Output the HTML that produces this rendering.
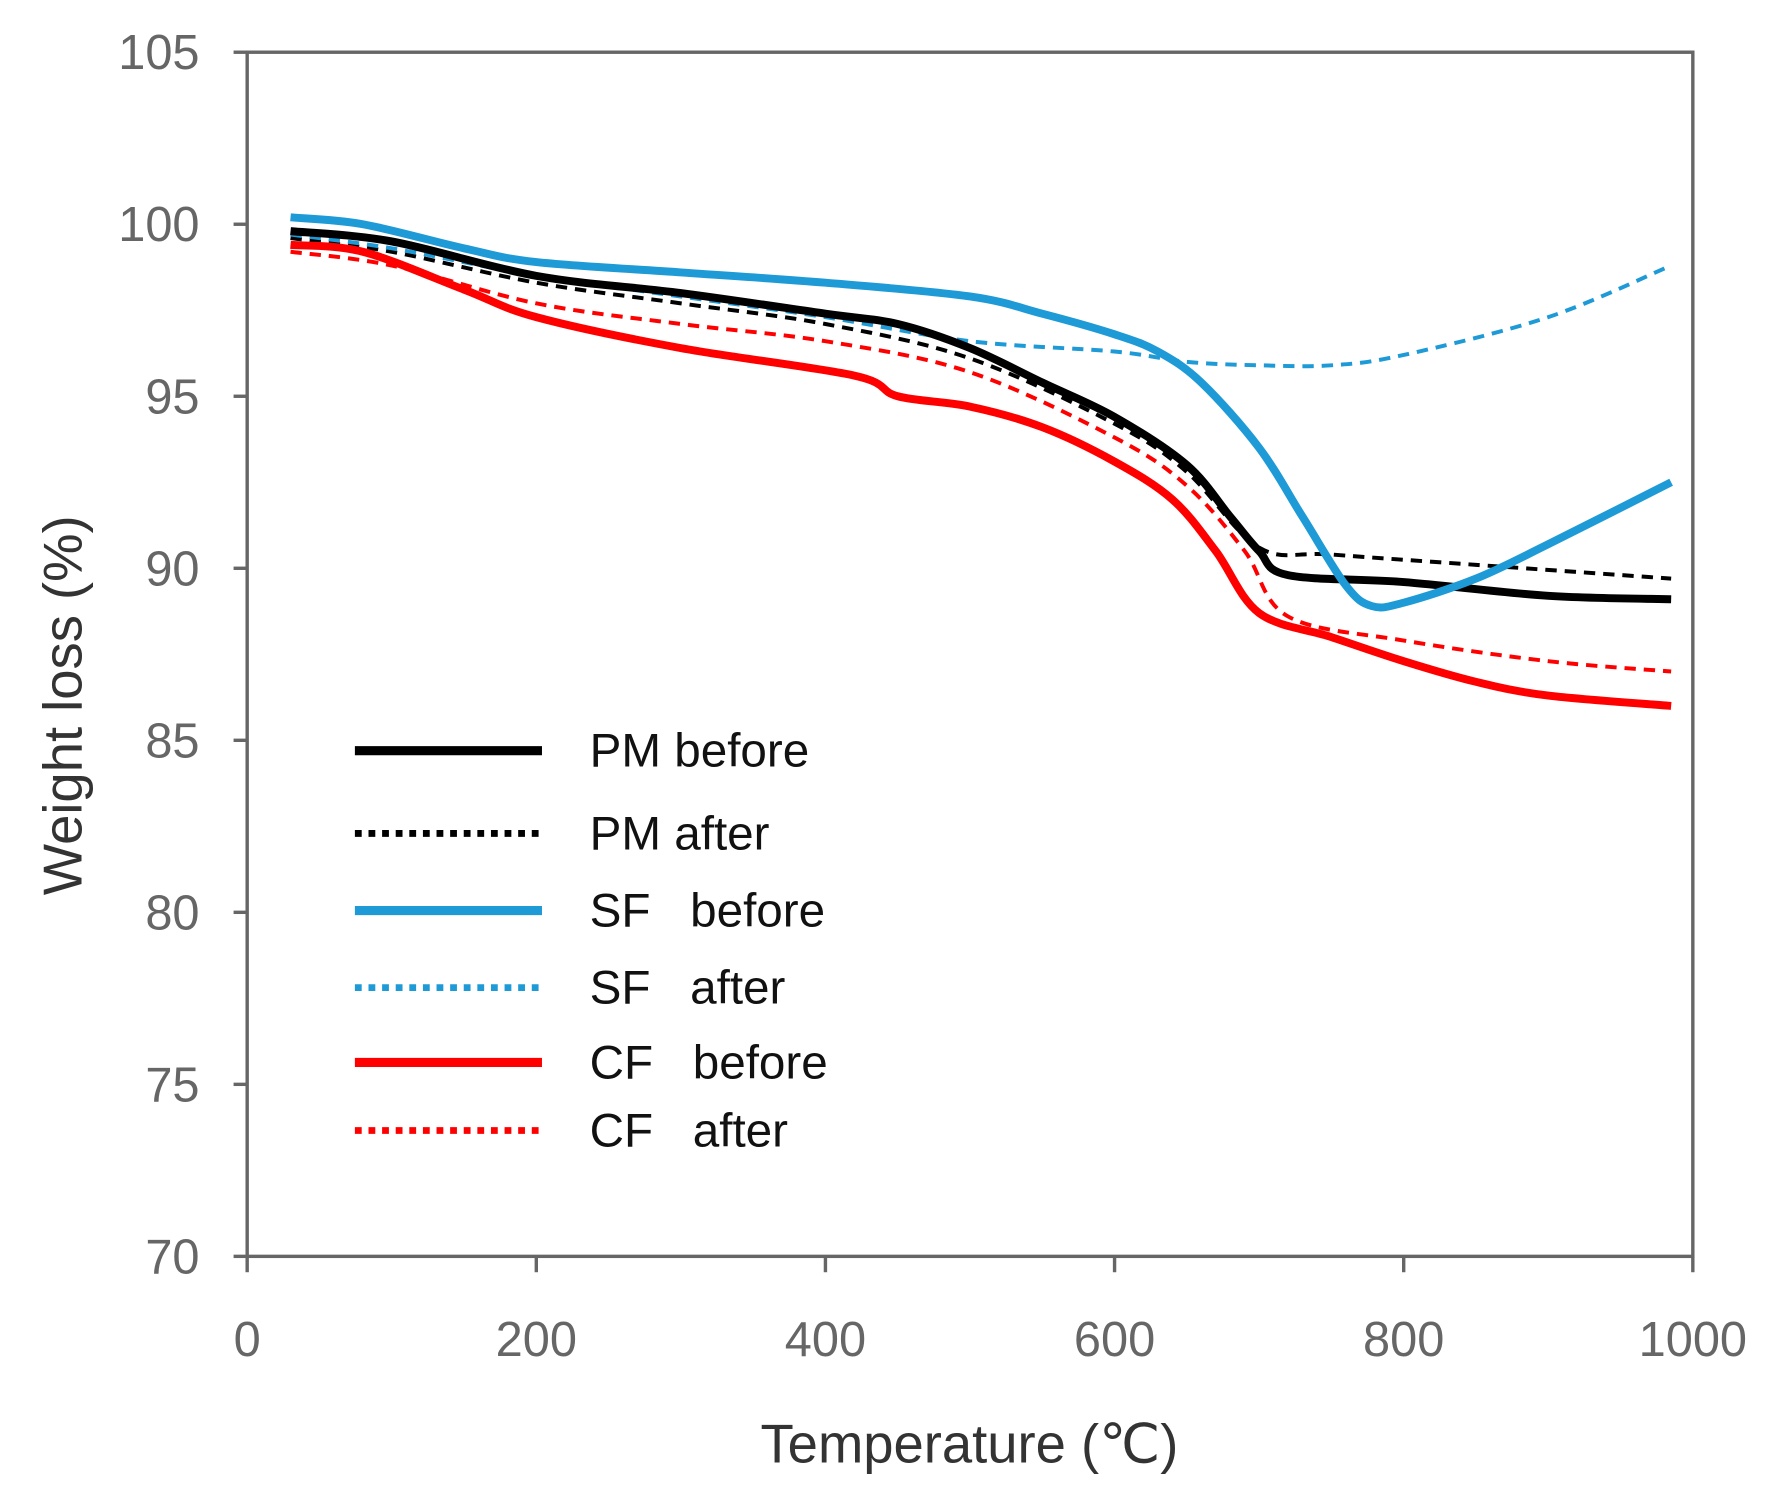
<!DOCTYPE html>
<html><head><meta charset="utf-8">
<style>
html,body{margin:0;padding:0;background:#fff;}
svg{display:block;}
text{font-family:"Liberation Sans","DejaVu Sans",sans-serif;white-space:pre;}
</style></head>
<body>
<svg id="chart" width="1779" height="1507" viewBox="0 0 1569 1329" xmlns="http://www.w3.org/2000/svg">
<rect width="1569" height="1329" fill="#fff"/>
<g id="plot"></g>
<g id="axes"></g>
<g id="legend"></g>
</svg>
<script>
const xTicks = [0, 200, 400, 600, 800, 1000];
const yTicks = [70, 75, 80, 85, 90, 95, 100, 105];
const seriesNames = ["PM before", "PM after", "SF   before", "SF   after", "CF   before", "CF   after"];
const pmBeforeT = [30,100,200,300,400,450,500,550,600,650,680,700,720,800,900,985];
const pmBeforeV = [99.8,99.5,98.5,98.0,97.4,97.1,96.4,95.4,94.4,93.0,91.5,90.5,89.8,89.6,89.2,89.1];
const pmAfterT = [30,100,200,300,400,500,600,650,700,750,850,985];
const pmAfterV = [99.6,99.2,98.3,97.7,97.1,96.1,94.2,92.8,90.6,90.4,90.1,89.7];
const sfBeforeT = [30,80,150,200,300,400,500,550,600,630,660,700,730,760,778,800,850,900,985];
const sfBeforeV = [100.2,100.0,99.3,98.9,98.6,98.3,97.9,97.4,96.8,96.3,95.4,93.5,91.5,89.5,88.9,89.0,89.7,90.7,92.5];
const sfAfterT = [30,100,200,300,400,500,600,650,700,750,800,900,985];
const sfAfterV = [99.7,99.3,98.5,97.9,97.3,96.6,96.3,96.0,95.9,95.9,96.2,97.3,98.8];
const cfBeforeT = [30,80,150,200,300,420,450,500,550,600,640,670,700,750,800,850,900,985];
const cfBeforeV = [99.4,99.2,98.1,97.3,96.4,95.6,95.0,94.7,94.1,93.1,92.0,90.5,88.7,88.0,87.3,86.7,86.3,86.0];
const cfAfterT = [30,100,200,300,400,500,600,650,690,720,800,900,985];
const cfAfterV = [99.2,98.8,97.7,97.1,96.6,95.7,93.8,92.4,90.5,88.6,87.9,87.3,87.0];

const NS = "http://www.w3.org/2000/svg";
const L = 218, R = 1493, T = 46, B = 1108;
function xs(t){ return L + (t - 0) / 1000 * (R - L); }
function ys(v){ return B - (v - 70) / 35 * (B - T); }
function mk(tag, attrs, parent){
  const e = document.createElementNS(NS, tag);
  for (const k in attrs) e.setAttribute(k, attrs[k]);
  parent.appendChild(e);
  return e;
}
function smoothPath(T_, V_){
  const p = T_.map((t,i)=>[xs(t), ys(V_[i])]);
  let d = "M" + p[0][0] + "," + p[0][1];
  for (let i=0;i<p.length-1;i++){
    const p0=p[Math.max(0,i-1)], p1=p[i], p2=p[i+1], p3=p[Math.min(p.length-1,i+2)];
    const c1x=p1[0]+(p2[0]-p0[0])/6, c1y=p1[1]+(p2[1]-p0[1])/6;
    const c2x=p2[0]-(p3[0]-p1[0])/6, c2y=p2[1]-(p3[1]-p1[1])/6;
    d += " C"+c1x+","+c1y+" "+c2x+","+c2y+" "+p2[0]+","+p2[1];
  }
  return d;
}
const plot = document.getElementById("plot");
const axes = document.getElementById("axes");
const legend = document.getElementById("legend");

const frame = mk("rect", {x:L, y:T, width:R-L, height:B-T, fill:"none", stroke:"#666", "stroke-width":3}, axes);



yTicks.forEach(v=>{
  const tk = mk("line", {x1:L-12, x2:L, y1:ys(v), y2:ys(v), stroke:"#666", "stroke-width":3}, axes);
  
  
  const lb = mk("text", {x:L-42, y:ys(v)+15, "text-anchor":"end", "font-size":43, fill:"#666"}, axes);
  lb.textContent = v;
  
  
});
xTicks.forEach(t=>{
  const tk = mk("line", {x1:xs(t), x2:xs(t), y1:B, y2:B+14, stroke:"#666", "stroke-width":3}, axes);
  
  
  const lb = mk("text", {x:xs(t), y:B+88, "text-anchor":"middle", "font-size":43, fill:"#666"}, axes);
  lb.textContent = t;
  
  
});
const xt = mk("text", {x:855, y:1290, "text-anchor":"middle", "font-size":48, fill:"#333"}, axes);
xt.textContent = "Temperature (℃)";


const yt = mk("text", {x:0, y:0, "text-anchor":"middle", "font-size":48, fill:"#333", transform:"translate(72,622) rotate(-90)"}, axes);
yt.textContent = "Weight loss (%)";



const series = [
  {T:pmAfterT, V:pmAfterV, c:"#000", w:3.5, dash:"10,7", n:"pm-after-line"},
  {T:sfAfterT, V:sfAfterV, c:"#1e9ad6", w:3.5, dash:"10,7", n:"sf-after-line"},
  {T:cfAfterT, V:cfAfterV, c:"#ff0000", w:3.5, dash:"10,7", n:"cf-after-line"},
  {T:cfBeforeT, V:cfBeforeV, c:"#ff0000", w:7, dash:"", n:"cf-before-line"},
  {T:pmBeforeT, V:pmBeforeV, c:"#000", w:7, dash:"", n:"pm-before-line"},
  {T:sfBeforeT, V:sfBeforeV, c:"#1e9ad6", w:7, dash:"", n:"sf-before-line"}
];
series.forEach(s=>{
  const a = {d:smoothPath(s.T,s.V), fill:"none", stroke:s.c, "stroke-width":s.w, "stroke-linejoin":"round"};
  if (s.dash) a["stroke-dasharray"] = s.dash;
  const p = mk("path", a, plot);
  
  
});

const legColors = ["#000","#000","#1e9ad6","#1e9ad6","#ff0000","#ff0000"];
const legDash = ["","6,6","","6,6","","6,6"];
const legY = [662,735,803,871,937,997];
seriesNames.forEach((name,i)=>{
  const a = {x1:313, x2:478, y1:legY[i], y2:legY[i], stroke:legColors[i], "stroke-width":legDash[i]?6:8};
  if (legDash[i]) a["stroke-dasharray"] = legDash[i];
  const ln = mk("line", a, legend);
  
  
  const tx = mk("text", {x:520, y:legY[i]+14, "font-size":42, fill:"#111"}, legend);
  tx.textContent = name;
  
  
});
</script>
</body></html>
